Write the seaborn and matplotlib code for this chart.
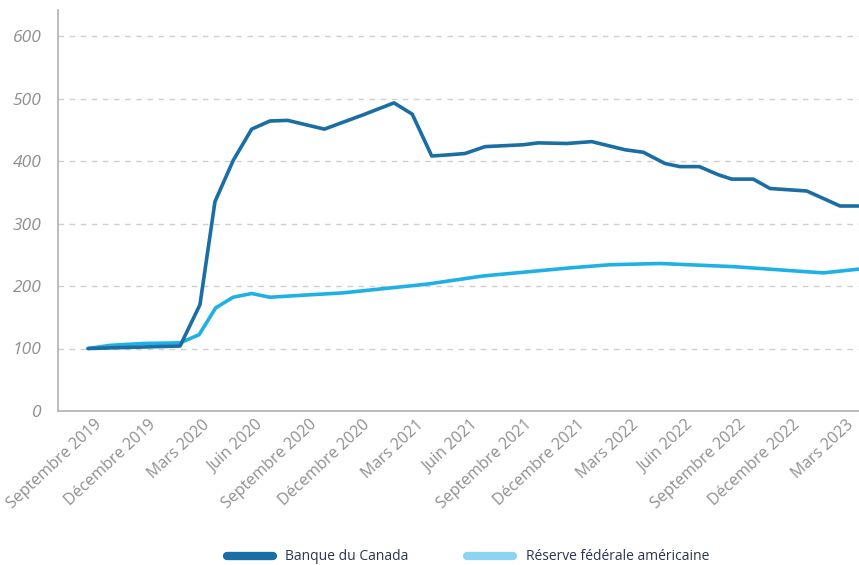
import matplotlib
matplotlib.use("Agg")
import matplotlib.pyplot as plt
from matplotlib.lines import Line2D
from matplotlib.transforms import ScaledTranslation
import seaborn as sns
import pandas as pd

# x positions in months since September 2019
bdc_months = [-0.5, 4.64, 5.75, 6.59, 7.61, 8.64, 9.66, 10.65, 12.70, 14.88, 16.59,
              17.61, 18.70, 19.72, 20.56, 21.68, 23.82, 24.65, 26.24, 27.64, 29.50,
              30.52, 31.73, 32.57, 33.65, 34.71, 35.46, 36.66, 37.60, 39.65, 41.51, 42.53]
bdc_values = [100, 104, 170, 335, 401, 451, 464, 465, 451, 474, 493,
              475, 408, 410, 412, 423, 426, 429, 428, 431, 418,
              414, 396, 391, 391, 378, 371, 371, 356, 352, 328, 328]

fed_months = [-0.5, 0.73, 2.57, 4.64, 5.70, 6.63, 7.60, 8.64, 9.66, 11.34, 13.74,
              18.44, 21.56, 26.42, 28.66, 31.45, 35.53, 40.56, 42.57]
fed_values = [100, 105, 108, 109, 122, 165, 182, 188, 182, 185, 189,
              203, 216, 229, 234, 236, 231, 221, 227]

series_names = ["Banque du Canada", "Réserve fédérale américaine"]
tick_months = [0, 3, 6, 9, 12, 15, 18, 21, 24, 27, 30, 33, 36, 39, 42]
tick_labels = ["Septembre 2019", "Décembre 2019", "Mars 2020", "Juin 2020",
               "Septembre 2020", "Décembre 2020", "Mars 2021", "Juin 2021",
               "Septembre 2021", "Décembre 2021", "Mars 2022", "Juin 2022",
               "Septembre 2022", "Décembre 2022", "Mars 2023"]
y_ticks = [0, 100, 200, 300, 400, 500, 600]

dark = "#1a6ea3"
light = "#1fb1e6"
legend_light = "#8dd4f2"

df = pd.concat([
    pd.DataFrame({"mois": fed_months, "valeur": fed_values, "serie": series_names[1]}),
    pd.DataFrame({"mois": bdc_months, "valeur": bdc_values, "serie": series_names[0]}),
], ignore_index=True)

sns.set_style("white")
plt.rcParams["font.family"] = ["Open Sans", "DejaVu Sans"]

fig = plt.figure(figsize=(8.59, 5.65), dpi=100)
ax = fig.add_axes([58 / 859, 1 - 411 / 565, 1 - 58 / 859, (411 - 10) / 565])

sns.lineplot(data=df, x="mois", y="valeur", hue="serie",
             hue_order=[series_names[1], series_names[0]],
             palette={series_names[0]: dark, series_names[1]: light},
             estimator=None, sort=False, linewidth=2.6, legend=False, ax=ax)

ax.set_xlim(-2.18, 42.57)
ax.set_ylim(0, 641.6)
ax.set_yticks(y_ticks)
ax.set_yticklabels([str(v) for v in y_ticks], fontsize=12.5, color="#8f8f8f",
                   style="italic")
ax.set_xticks(tick_months)
ax.set_xticklabels(tick_labels, rotation=43, ha="right", fontsize=11.5,
                   color="#8f8f8f")
ax.tick_params(axis="both", length=0)
ax.tick_params(axis="y", pad=12)
ax.tick_params(axis="x", pad=4)
shift = ScaledTranslation(8 / 100, 0, fig.dpi_scale_trans)
for lab in ax.get_xticklabels():
    lab.set_transform(lab.get_transform() + shift)
ax.set_xlabel("")
ax.set_ylabel("")

for v in y_ticks[1:]:
    ax.axhline(v, color="#cfcfcf", linewidth=1, linestyle=(0, (4, 4)), zorder=0)

for side in ["top", "right"]:
    ax.spines[side].set_visible(False)
for side in ["left", "bottom"]:
    ax.spines[side].set_color("#b0b0b0")
    ax.spines[side].set_linewidth(1.2)

handles = [Line2D([0], [0], color=dark, linewidth=6, solid_capstyle="round"),
           Line2D([0], [0], color=legend_light, linewidth=6, solid_capstyle="round")]
leg = fig.legend(handles, series_names, loc="center", ncol=2,
                 bbox_to_anchor=(468 / 859, 1 - 557 / 565), frameon=False,
                 fontsize=10, handlelength=3.3, handletextpad=0.9,
                 columnspacing=4.2)
for t in leg.get_texts():
    t.set_color("#2b3552")

fig.savefig("out.png", dpi=100)
